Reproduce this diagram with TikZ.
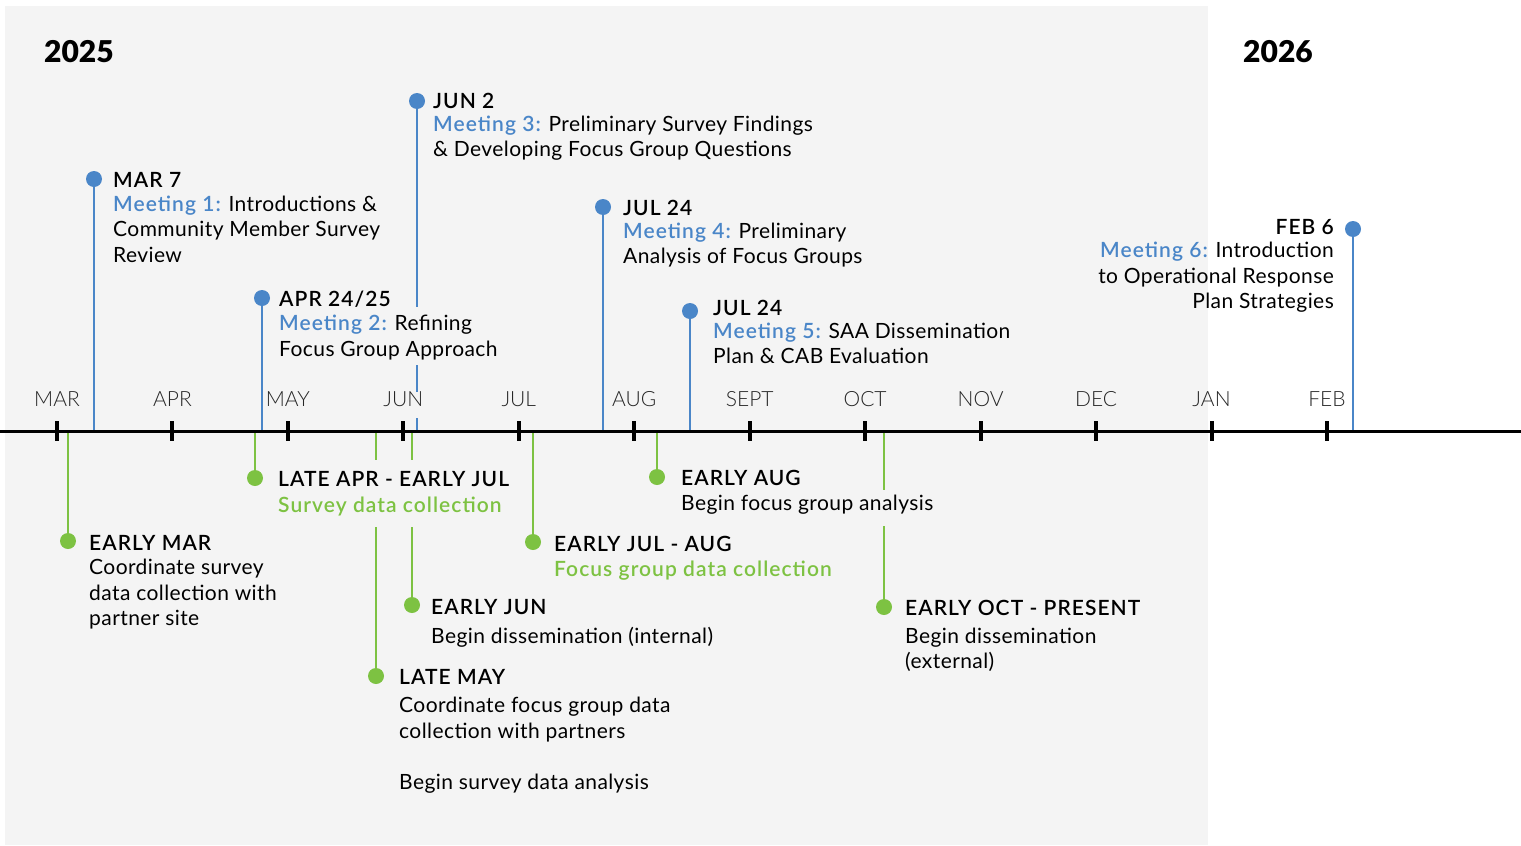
\documentclass[tikz,border=0pt]{standalone}
\usepackage{fontspec}
\setmainfont{Lato}[LetterSpace=2]
\IfFontExistsTF{Lato Light}{\newfontfamily\monthfont{Lato Light}}{\newfontfamily\monthfont{Lato}}
\IfFontExistsTF{Lato Semibold}{\newfontfamily\semi{Lato Semibold}[LetterSpace=5]}{\newfontfamily\semi{Lato Bold}[LetterSpace=5]}
\IfFontExistsTF{Lato Black}{\newfontfamily\yearfont{Lato Black}}{\newfontfamily\yearfont{Lato Bold}}
\definecolor{bg}{HTML}{F4F4F4}
\definecolor{mblue}{HTML}{4A86C8}
\definecolor{mgreen}{HTML}{7DC242}
\newcommand\fs{\fontsize{21}{25}\selectfont}
\newcommand\mtg[1]{\textcolor{mblue}{\semi #1}}
\tikzset{
  bdot/.style={circle, fill=mblue, minimum size=16pt, inner sep=0pt},
  gdot/.style={circle, fill=mgreen, minimum size=16pt, inner sep=0pt},
  bline/.style={draw=mblue, line width=1.5pt},
  gline/.style={draw=mgreen, line width=1.5pt},
  axisline/.style={draw=black, line width=3pt},
  tickmark/.style={draw=black, line width=4pt},
  month/.style={anchor=base, inner sep=0pt, font=\monthfont\fontsize{21}{25}\selectfont, text=black!85},
  monthcut/.style={month, fill=bg, inner xsep=1pt, text height=14.5pt, text depth=11.5pt},
  txt/.style={anchor=base west, inner sep=0pt, font=\fs},
  txtr/.style={anchor=base east, inner sep=0pt, font=\fs},
  ttl/.style={txt, font=\fs\semi},
  ttlr/.style={txtr, font=\fs\semi},
  cut/.style={fill=bg},
  year/.style={anchor=center, inner sep=0pt, font=\yearfont\fontsize{30}{36}\selectfont},
}
\begin{document}
\begin{tikzpicture}[x=1pt,y=-1pt]
\useasboundingbox (0,0) rectangle (1521,846);
\fill[white] (0,0) rectangle (1521,846);
\fill[bg] (5,6) rectangle (1208,845);

% years
\node[year] (y2025) at (79,52) {2025};
\node[year] (y2026) at (1278,52) {2026};

% blue dots
\node[bdot] (b1) at (94,179) {};
\node[bdot] (b2) at (262,298) {};
\node[bdot] (b3) at (417,101) {};
\node[bdot] (b4) at (603,207) {};
\node[bdot] (b5) at (690,311) {};
\node[bdot] (b6) at (1353,229) {};
% green dots
\node[gdot] (g1) at (68,541) {};
\node[gdot] (g2) at (255,478) {};
\node[gdot] (g3) at (376,676) {};
\node[gdot] (g4) at (412,605) {};
\node[gdot] (g5) at (533,542) {};
\node[gdot] (g6) at (657,477) {};
\node[gdot] (g7) at (884,607) {};

% axis coordinates
\coordinate (ab1) at (94,431);
\coordinate (ab2) at (262,431);
\coordinate (ab3) at (417,431);
\coordinate (ab4) at (603,431);
\coordinate (ab5) at (690,431);
\coordinate (ab6) at (1353,431);
\coordinate (ag1) at (68,431);
\coordinate (ag2) at (255,431);
\coordinate (ag3) at (376,431);
\coordinate (ag4) at (412,431);
\coordinate (ag5) at (533,431);
\coordinate (ag6) at (657,431);
\coordinate (ag7) at (884,431);
\coordinate (axL) at (0,431);
\coordinate (axR) at (1521,431);

% connectors
\foreach \i in {1,...,6} \draw[bline] (b\i) -- (ab\i);
\foreach \i in {1,...,7} \draw[gline] (ag\i) -- (g\i);

% axis, ticks and months
\draw[axisline] (axL) -- (axR);
\foreach \m/\s [count=\i from 0] in {MAR/month,APR/month,MAY/month,JUN/monthcut,JUL/month,AUG/month,SEPT/month,OCT/month,NOV/month,DEC/month,JAN/month,FEB/month}{
  \draw[tickmark] (57+115.45*\i,421) -- (57+115.45*\i,441);
  \node[\s] (m\i) at (57+115.45*\i,406.5) {\m};
}

% ---- meetings (blue) ----
\node[ttl] (t1a) at (113,187.5) {MAR 7};
\node[txt] (t1b) at (113,211.5) {\mtg{Meeting 1:} Introductions \&};
\node[txt] (t1c) at (113,236.5) {Community Member Survey};
\node[txt] (t1d) at (113,262.5) {Review};

\node[ttl] (t2a) at (279,306.5) {APR 24/25};
\node[txt, cut, text height=23.5pt, text depth=6pt] (t2b) at (279,330.5) {\mtg{Meeting 2:} Refining};
\node[txt, cut, text height=20pt, text depth=8.5pt] (t2c) at (279,356.5) {Focus Group Approach};

\node[ttl] (t3a) at (433,108.5) {JUN 2};
\node[txt] (t3b) at (433,131.5) {\mtg{Meeting 3:} Preliminary Survey Findings};
\node[txt] (t3c) at (433,156.5) {\& Developing Focus Group Questions};

\node[ttl] (t4a) at (623,215.5) {JUL 24};
\node[txt] (t4b) at (623,238.5) {\mtg{Meeting 4:} Preliminary};
\node[txt] (t4c) at (623,263.5) {Analysis of Focus Groups};

\node[ttl] (t5a) at (713,315.5) {JUL 24};
\node[txt] (t5b) at (713,338.5) {\mtg{Meeting 5:} SAA Dissemination};
\node[txt] (t5c) at (713,363.5) {Plan \& CAB Evaluation};

\node[ttlr] (t6a) at (1334,234.5) {FEB 6};
\node[txtr] (t6b) at (1334,257.5) {\mtg{Meeting 6:} Introduction};
\node[txtr] (t6c) at (1334,283.5) {to Operational Response};
\node[txtr] (t6d) at (1334,308.5) {Plan Strategies};

% ---- activities (green) ----
\node[ttl] (s1a) at (89,550.5) {EARLY MAR};
\node[txt] (s1b) at (89,574.5) {Coordinate survey};
\node[txt] (s1c) at (89,600.5) {data collection with};
\node[txt] (s1d) at (89,625.5) {partner site};

\node[ttl, cut, text height=26.5pt, text depth=6pt] (s2a) at (278,486.5) {LATE APR - EARLY JUL};
\node[txt, cut, text height=20pt, text depth=14.5pt, font=\fs\semi, text=mgreen] (s2b) at (278,512.5) {Survey data collection};

\node[ttl] (s3a) at (399,684.5) {LATE MAY};
\node[txt] (s3b) at (399,712.5) {Coordinate focus group data};
\node[txt] (s3c) at (399,738.5) {collection with partners};
\node[txt] (s3d) at (399,789.5) {Begin survey data analysis};

\node[ttl] (s4a) at (431,614.5) {EARLY JUN};
\node[txt] (s4b) at (431,643.5) {Begin dissemination (internal)};

\node[ttl] (s5a) at (554,551.5) {EARLY JUL - AUG};
\node[txt, font=\fs\semi, text=mgreen] (s5b) at (554,576.5) {Focus group data collection};

\node[ttl] (s6a) at (681,485.5) {EARLY AUG};
\node[txt, cut, text height=20.5pt, text depth=15.5pt] (s6b) at (681,510.5) {Begin focus group analysis};

\node[ttl] (s7a) at (905,615.5) {EARLY OCT - PRESENT};
\node[txt] (s7b) at (905,643.5) {Begin dissemination};
\node[txt] (s7c) at (905,668.5) {(external)};
\end{tikzpicture}
\end{document}
